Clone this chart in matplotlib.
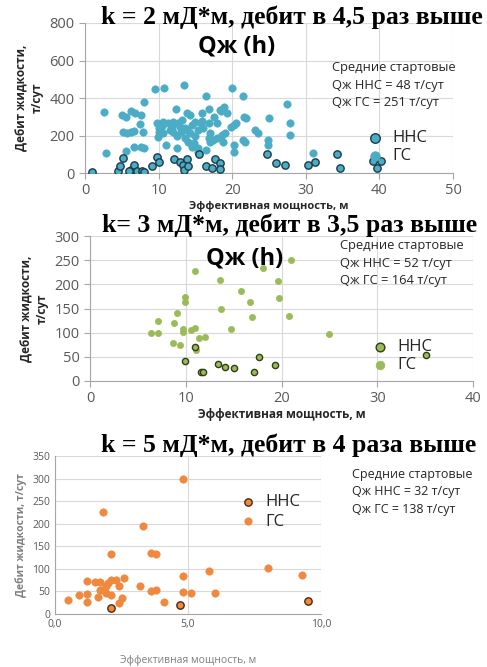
import matplotlib
matplotlib.use('Agg')
import matplotlib.pyplot as plt
from matplotlib.ticker import MultipleLocator, FuncFormatter

W, H = 487, 667
SANS = ['Open Sans', 'DejaVu Sans']
SERIF = ['Liberation Serif', 'DejaVu Serif']

# panel 1: k = 2
gs1_x = [9.5, 10.8, 13.4, 16.4, 20.0, 21.4, 8.0, 2.6, 5.0, 5.6, 6.2, 6.8, 7.6, 7.5, 5.1, 5.7,
         6.3, 6.7, 7.9, 2.9, 5.6, 6.6, 7.6, 8.0, 12.3, 9.8, 10.6, 11.3, 12.0, 12.7, 13.8, 14.3,
         14.9, 15.9, 16.8, 18.3, 18.9, 19.3, 17.9, 16.8, 15.9, 20.2, 20.5, 21.6, 21.9, 25.0,
         10.0, 10.6, 11.5, 12.0, 13.0, 13.6, 14.3, 15.4, 17.0, 18.6, 19.9, 23.1, 23.5, 24.9,
         24.9, 11.0, 12.5, 13.6, 14.0, 14.5, 15.4, 16.8, 17.0, 18.8, 20.2, 20.2, 21.5, 21.7,
         16.5, 15.4, 10.1, 12.9, 27.4, 27.9, 27.9, 31.0, 11.8, 13.2, 14.6, 15.0, 16.0, 17.5,
         18.0, 19.0, 12.5, 13.9, 15.7, 9.9, 10.4, 14.8, 17.4, 18.5]
gs1_y = [448, 452, 469, 411, 452, 411, 380, 327, 309, 297, 332, 318, 309, 261, 217, 211,
         220, 226, 217, 108, 117, 140, 137, 135, 340, 265, 274, 265, 274, 265, 318, 309,
         274, 318, 340, 336, 350, 318, 265, 265, 279, 256, 265, 300, 292, 292,
         220, 211, 229, 220, 220, 238, 211, 229, 211, 202, 247, 229, 215, 176,
         149, 149, 132, 185, 167, 140, 132, 185, 167, 167, 149, 114, 176, 167,
         123, 114, 238, 247, 368, 268, 203, 108, 245, 285, 255, 195, 240, 300,
         185, 215, 195, 228, 265, 190, 250, 160, 175, 330]
nns1_x = [1.0, 4.5, 4.8, 5.2, 6.3, 6.6, 7.0, 7.7, 8.0, 9.1, 9.8, 10.0, 12.1, 12.9, 13.3, 13.4,
          13.8, 14.0, 15.5, 16.5, 17.3, 17.7, 18.3, 18.3, 24.7, 26.0, 6.0, 27.2, 30.3, 31.3,
          34.3, 34.6, 39.1, 40.2, 39.7]
nns1_y = [7, 12, 37, 78, 16, 43, 12, 12, 7, 37, 84, 60, 73, 60, 43, 16,
          75, 37, 101, 37, 25, 75, 55, 20, 101, 55, 12, 43, 43, 60,
          101, 28, 64, 64, 25]

# panel 2: k = 3
gs2_x = [6.4, 7.1, 7.1, 8.8, 9.1, 8.7, 9.4, 11.0, 9.9, 9.9, 9.7, 9.7, 10.6, 11.0, 11.1, 11.4,
         12.0, 13.6, 13.7, 14.7, 15.8, 16.7, 16.9, 18.1, 19.6, 19.7, 20.8, 21.0, 25.0]
gs2_y = [99, 125, 100, 121, 140, 79, 74, 228, 174, 164, 107, 102, 106, 109, 64, 90,
         92, 210, 148, 107, 187, 164, 132, 233, 207, 172, 134, 250, 97]
nns2_x = [9.9, 11.0, 11.6, 11.8, 13.4, 14.1, 15.0, 17.1, 17.7, 19.3, 35.1]
nns2_y = [41, 71, 19, 18, 35, 30, 26, 18, 50, 33, 54]

# panel 3: k = 5
gs3_x = [0.5, 0.9, 1.2, 1.2, 1.2, 1.5, 1.6, 1.7, 1.8, 1.8, 1.9, 1.9, 2.0, 2.1, 2.1, 2.1,
         2.3, 2.4, 2.5, 2.4, 2.6, 3.3, 3.2, 3.6, 3.6, 3.8, 3.8, 4.1, 4.8, 4.8, 4.8, 5.1,
         5.8, 6.0, 8.0, 9.3, 1.7]
gs3_y = [30, 41, 72, 45, 27, 71, 38, 71, 226, 54, 47, 61, 69, 75, 132, 43,
         75, 61, 35, 24, 80, 194, 61, 50, 135, 133, 54, 27, 300, 84, 49, 47,
         96, 47, 103, 87, 54]
nns3_x = [2.1, 4.7, 9.5]
nns3_y = [13, 19, 28]

titles = ['k = 2 мД*м, дебит в 4,5 раз выше',
          'k= 3 мД*м, дебит в 3,5 раз выше',
          'k = 5 мД*м, дебит в 4 раза выше']
notes = ['Средние стартовые\nQж ННС = 48 т/сут\nQж ГС = 251 т/сут',
         'Средние стартовые\nQж ННС = 52 т/сут\nQж ГС = 164 т/сут',
         'Средние стартовые\nQж ННС = 32 т/сут\nQж ГС = 138 т/сут']


def fx(px):
    return px / W


def fy(py):
    return 1 - py / H


def rect(x0, x1, y_top, y_bot):
    return [fx(x0), fy(y_bot), fx(x1) - fx(x0), (y_bot - y_top) / H]


def setup(ax, xmax, xstep, ymax, ystep, fs, tick_len):
    ax.set_xlim(0, xmax)
    ax.set_ylim(0, ymax)
    ax.xaxis.set_major_locator(MultipleLocator(xstep))
    ax.yaxis.set_major_locator(MultipleLocator(ystep))
    ax.grid(True, color='#d9d9d9', lw=0.8)
    ax.set_axisbelow(True)
    for s in ['top', 'right']:
        ax.spines[s].set_visible(False)
    for s in ['left', 'bottom']:
        ax.spines[s].set_color('#a6a6a6')
        ax.spines[s].set_linewidth(0.8)
    ax.tick_params(colors='#a6a6a6', labelcolor='#595959', labelsize=fs,
                   length=tick_len, width=0.8)
    for lab in ax.get_xticklabels() + ax.get_yticklabels():
        lab.set_family(SANS)


def draw(ax, gx, gy, nx, ny, fill, edge, size):
    h_n = ax.scatter(nx, ny, s=size, color=fill, edgecolors=edge, linewidths=1.0,
                     zorder=3, label='ННС')
    h_g = ax.scatter(gx, gy, s=size, color=fill, edgecolors=fill, linewidths=0.5,
                     zorder=2, label='ГС')
    return [h_n, h_g]


def legend(hs, px, py, spacing, scale):
    fig.legend(handles=hs, loc='upper left', bbox_to_anchor=(fx(px), fy(py)),
               frameon=False, prop={'family': SANS, 'size': 12}, handletextpad=0.4,
               borderpad=0, labelspacing=spacing, handlelength=1.2, markerscale=scale,
               labelcolor='#262626')


fig = plt.figure(figsize=(W / 100, H / 100), dpi=100)

# ---- panel 1
ax1 = fig.add_axes(rect(85, 453, 23, 173))
setup(ax1, 50, 10, 800, 200, 10.5, 4)
hs = draw(ax1, gs1_x, gs1_y, nns1_x, nns1_y, '#4bacc6', '#1d3b47', 28)
ax1.set_xlabel('Эффективная мощность, м', family=SANS, fontsize=8, fontweight='bold',
               color='#262626', labelpad=2)
ax1.set_ylabel('Дебит жидкости,\nт/сут', family=SANS, fontsize=8.5, fontweight='bold',
               color='#262626', labelpad=4)
fig.text(fx(292), fy(17), titles[0], family=SERIF, fontsize=18.5, fontweight='bold',
         ha='center', va='center')
fig.text(fx(237), fy(47), 'Qж (h)', family=SANS, fontsize=17, fontweight='bold',
         ha='center', va='center')
fig.text(fx(332), fy(61), notes[0], family=SANS, fontsize=9.3, va='top',
         linespacing=1.45, color='#262626')
legend(hs, 357, 122, 0.1, 1.3)

# ---- panel 2
ax2 = fig.add_axes(rect(90, 473, 236, 381))
setup(ax2, 40, 10, 300, 50, 10.5, 4)
hs = draw(ax2, gs2_x, gs2_y, nns2_x, nns2_y, '#9bbb59', '#2f3d18', 20)
ax2.set_xlabel('Эффективная мощность, м', family=SANS, fontsize=8.5, fontweight='bold',
               color='#262626', labelpad=1)
ax2.set_ylabel('Дебит жидкости,\nт/сут', family=SANS, fontsize=8.5, fontweight='bold',
               color='#262626', labelpad=4)
fig.text(fx(290), fy(225), titles[1], family=SERIF, fontsize=18.5, fontweight='bold',
         ha='center', va='center')
fig.text(fx(245), fy(258), 'Qж (h)', family=SANS, fontsize=17, fontweight='bold',
         ha='center', va='center')
fig.text(fx(340), fy(239), notes[1], family=SANS, fontsize=9.3, va='top',
         linespacing=1.45, color='#262626')
legend(hs, 362, 331, 0.1, 1.4)

# ---- panel 3
ax3 = fig.add_axes(rect(55, 321, 456, 614))
setup(ax3, 10, 5, 350, 50, 7.5, 0)
ax3.xaxis.set_major_formatter(FuncFormatter(lambda v, p: f'{v:.1f}'.replace('.', ',')))
hs = draw(ax3, gs3_x, gs3_y, nns3_x, nns3_y, '#f0883e', '#4a2a12', 28)
ax3.set_xlabel('Эффективная мощность, м', family=SANS, fontsize=7.5, color='#7f7f7f',
               labelpad=18)
ax3.set_ylabel('Дебит жидкости, т/сут', family=SANS, fontsize=7.5, fontweight='bold',
               color='#7f7f7f', labelpad=4)
fig.text(fx(289), fy(445), titles[2], family=SERIF, fontsize=18.5, fontweight='bold',
         ha='center', va='center')
fig.text(fx(352), fy(468), notes[2], family=SANS, fontsize=9, va='top',
         linespacing=1.45, color='#262626')
legend(hs, 230, 486, 0.2, 1.0)

fig.savefig('out.png', dpi=100)
